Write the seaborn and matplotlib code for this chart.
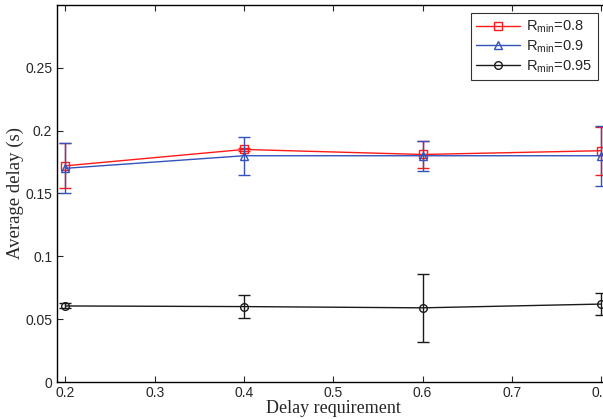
import pandas as pd
import matplotlib
matplotlib.use("Agg")
import matplotlib.pyplot as plt
import seaborn as sns

# -------------------------------
# Data
# -------------------------------
delay_req = [0.2, 0.4, 0.6, 0.8]
labels = [r"R$_{\mathrm{min}}$=0.8", r"R$_{\mathrm{min}}$=0.9", r"R$_{\mathrm{min}}$=0.95"]

avg_r08 = [0.172, 0.185, 0.181, 0.184]
err_r08 = [0.018, 0.001, 0.011, 0.019]
avg_r09 = [0.170, 0.180, 0.180, 0.180]
err_r09 = [0.020, 0.015, 0.012, 0.024]
avg_r095 = [0.0605, 0.060, 0.059, 0.062]
err_r095 = [0.002, 0.009, 0.027, 0.009]

colors = ["#ff1a1a", "#3352bb", "#1a1a1a"]
markers = ["s", "^", "o"]

df = pd.DataFrame({
    "x": delay_req * 3,
    "y": avg_r08 + avg_r09 + avg_r095,
    "err": err_r08 + err_r09 + err_r095,
    "series": [labels[0]] * 4 + [labels[1]] * 4 + [labels[2]] * 4,
})

# -------------------------------
# Plot settings
# -------------------------------
sns.set_style("ticks")
plt.rcParams["font.family"] = ["Liberation Sans", "DejaVu Sans"]
plt.rcParams["mathtext.fontset"] = "custom"
plt.rcParams["mathtext.rm"] = "Liberation Sans"

fig = plt.figure(figsize=(6.03, 4.19), dpi=100)
ax = fig.add_axes([0.0937, 0.0883, 0.918, 0.9])

# error bars first, lines + open markers on top
for lab, c, m in zip(labels, colors, markers):
    sub = df[df["series"] == lab]
    ax.errorbar(sub["x"], sub["y"], yerr=sub["err"], fmt="none",
                ecolor=c, elinewidth=1.0, capsize=4, capthick=1.0)
    sns.lineplot(data=sub, x="x", y="y", color=c, marker=m, label=lab,
                 markersize=5.5, markerfacecolor="none", markeredgecolor=c,
                 markeredgewidth=1.0, linewidth=1.0, ax=ax)

ax.set_xlim(0.19, 0.81)
ax.set_ylim(0, 0.3)
ax.set_xticks([0.2, 0.3, 0.4, 0.5, 0.6, 0.7, 0.8])
ax.set_xticklabels(["0.2", "0.3", "0.4", "0.5", "0.6", "0.7", "0.8"])
ax.set_yticks([0, 0.05, 0.1, 0.15, 0.2, 0.25])
ax.set_yticklabels(["0", "0.05", "0.1", "0.15", "0.2", "0.25"])
ax.tick_params(direction="in", top=True, right=True, length=4,
               labelsize=10, width=0.8, pad=3)
for s in ax.spines.values():
    s.set_linewidth(1.0)
    s.set_color("black")

ax.set_xlabel("Delay requirement", family=["Liberation Serif"], fontsize=13, labelpad=0)
ax.set_ylabel("Average delay (s)", family=["Liberation Serif"], fontsize=13.5, labelpad=1)

leg = ax.legend(loc="upper right", bbox_to_anchor=(0.978, 0.979), borderaxespad=0,
                fontsize=10.5, frameon=True, fancybox=False, edgecolor="black",
                handlelength=3.0, borderpad=0.4, labelspacing=0.2, handletextpad=0.4)
leg.get_frame().set_linewidth(0.8)

fig.savefig("out.png", dpi=100)
